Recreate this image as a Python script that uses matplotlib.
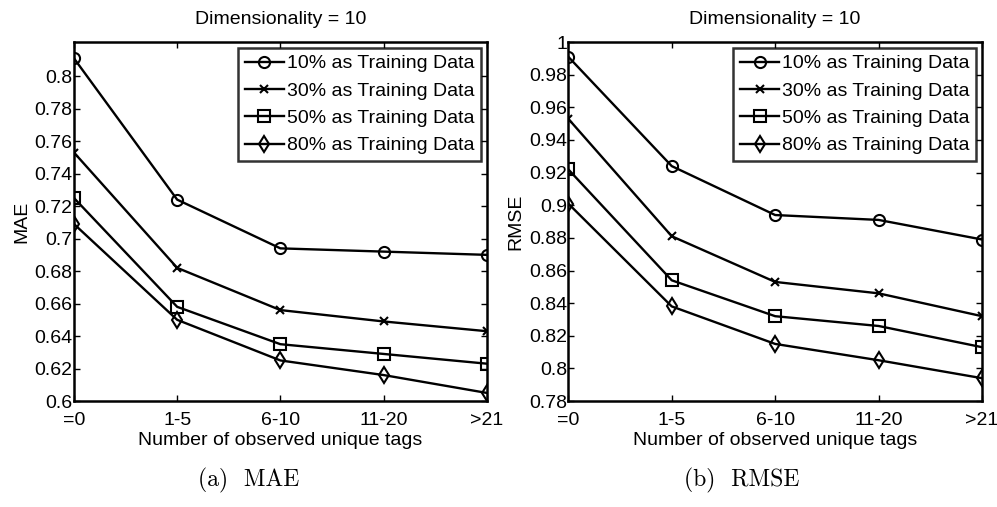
import numpy as np
import matplotlib.pyplot as plt

plt.rcParams['font.family'] = ['Liberation Sans', 'DejaVu Sans']

groups = ['=0', '1-5', '6-10', '11-20', '>21']
series = ['10% as Training Data', '30% as Training Data',
          '50% as Training Data', '80% as Training Data']

mae_10 = [0.811, 0.724, 0.694, 0.692, 0.690]
mae_30 = [0.753, 0.682, 0.656, 0.649, 0.643]
mae_50 = [0.725, 0.658, 0.635, 0.629, 0.623]
mae_80 = [0.709, 0.650, 0.625, 0.616, 0.605]

rmse_10 = [0.991, 0.924, 0.894, 0.891, 0.879]
rmse_30 = [0.953, 0.881, 0.853, 0.846, 0.832]
rmse_50 = [0.922, 0.854, 0.832, 0.826, 0.813]
rmse_80 = [0.901, 0.838, 0.815, 0.805, 0.794]

markers = ['o', 'x', 's', 'd']

fig = plt.figure(figsize=(9.97, 5.07), dpi=100)
ax1 = fig.add_axes([0.0742, 0.209, 0.414, 0.708])
ax2 = fig.add_axes([0.570, 0.209, 0.415, 0.708])

x = np.arange(len(groups))


def draw(ax, data, ylabel, ylim, yticks):
    for vals, m, lab in zip(data, markers, series):
        ax.plot(x, vals, color='black', lw=1.7, marker=m, ms=8 if m != 'x' else 6,
                mfc='none', mec='black', mew=1.5, label=lab)
    ax.set_xlim(0, len(groups) - 1)
    ax.set_ylim(*ylim)
    ax.set_xticks(x)
    ax.set_xticklabels(groups)
    ax.set_yticks(yticks)
    ax.set_yticklabels(['%g' % t for t in yticks])
    ax.tick_params(direction='in', top=True, right=True, labelsize=14,
                   length=4, width=1)
    ax.tick_params(axis='x', pad=8)
    ax.tick_params(axis='y', pad=1)
    for s in ax.spines.values():
        s.set_linewidth(1.8)
    ax.set_ylabel(ylabel, fontsize=14, labelpad=3)
    ax.set_xlabel('Number of observed unique tags', fontsize=14, labelpad=2)
    ax.set_title('Dimensionality = 10', fontsize=14, pad=13)
    leg = ax.legend(loc='upper right', fontsize=14,
                    frameon=True, fancybox=False, edgecolor='black',
                    borderpad=0.35, labelspacing=0.5, handlelength=2.0,
                    handletextpad=0.15, borderaxespad=0.3)
    leg.get_frame().set_linewidth(1.8)


draw(ax1, [mae_10, mae_30, mae_50, mae_80], 'MAE', (0.6, 0.821),
     np.round(np.arange(0.6, 0.801, 0.02), 2))
draw(ax2, [rmse_10, rmse_30, rmse_50, rmse_80], 'RMSE', (0.78, 1.0),
     np.round(np.arange(0.78, 1.001, 0.02), 2))

# sub-figure captions
fig.text(249 / 997, 1 - 480 / 507, '(a)  MAE', ha='center', va='center',
         fontsize=17, family='cmr10')
fig.text(742 / 997, 1 - 480 / 507, '(b)  RMSE', ha='center', va='center',
         fontsize=17, family='cmr10')

fig.savefig('out.png', dpi=100)
